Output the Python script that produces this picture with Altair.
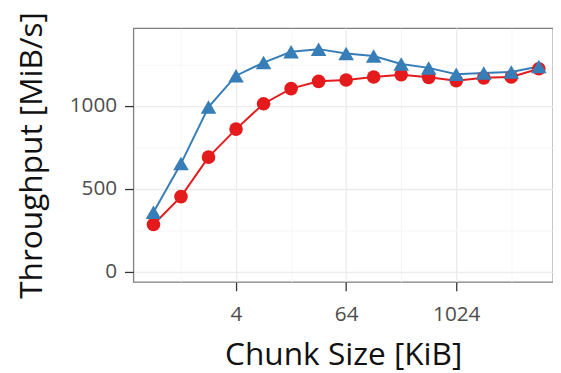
import altair as alt
import pandas as pd

chunk_kib = [0.5, 1, 2, 4, 8, 16, 32, 64, 128, 256, 512, 1024, 2048, 4096, 8192]
red_series = [286, 454, 692, 861, 1014, 1105, 1149, 1157, 1175, 1189, 1173, 1153, 1170, 1175, 1225]
blue_series = [359, 653, 994, 1183, 1262, 1327, 1343, 1317, 1302, 1254, 1230, 1192, 1199, 1205, 1238]
series_names = ["Red", "Blue"]
series_colors = ["#E41A1C", "#377EB8"]
series_shapes = ["circle", "triangle-up"]
series_sizes = [190, 250]

x_ticks = [1, 4, 16, 64, 256, 1024, 4096]
x_major = [4, 64, 1024]
y_ticks = [0, 250, 500, 750, 1000, 1250]

df = pd.DataFrame({
    "chunk": chunk_kib * 2,
    "tp": red_series + blue_series,
    "series": [series_names[0]] * len(chunk_kib) + [series_names[1]] * len(chunk_kib),
})

FONT = "Open Sans"
x_major_test = " || ".join(f"datum.value == {v}" for v in x_major)

x_enc = alt.X(
    "chunk:Q",
    scale=alt.Scale(type="log", base=2, domain=[0.3016, 11712], nice=False),
    axis=alt.Axis(
        title="Chunk Size [KiB]",
        values=x_ticks,
        labelExpr=f"({x_major_test}) ? format(datum.value, 'd') : ''",
        tickOpacity={"condition": {"test": x_major_test, "value": 1}, "value": 0},
        gridColor={"condition": {"test": x_major_test, "value": "#EBEBEB"}, "value": "#F3F3F3"},
        gridWidth={"condition": {"test": x_major_test, "value": 1.3}, "value": 0.8},
        labelOverlap=False,
        labelFlush=False,
        labelPadding=13,
        titlePadding=16,
        titleFontSize=32,
    ),
)
y_enc = alt.Y(
    "tp:Q",
    scale=alt.Scale(domain=[-60, 1470], nice=False, zero=False),
    axis=alt.Axis(
        title="Throughput [MiB/s]",
        values=y_ticks,
        labelExpr="datum.value % 500 == 0 ? format(datum.value, 'd') : ''",
        tickOpacity={"condition": {"test": "datum.value % 500 == 0", "value": 1}, "value": 0},
        gridColor={"condition": {"test": "datum.value % 500 == 0", "value": "#EBEBEB"}, "value": "#F3F3F3"},
        gridWidth={"condition": {"test": "datum.value % 500 == 0", "value": 1.3}, "value": 0.8},
        labelOverlap=False,
        labelPadding=8,
        titlePadding=21,
        titleFontSize=32,
    ),
)
color = alt.Color("series:N", scale=alt.Scale(domain=series_names, range=series_colors), legend=None)
shape = alt.Shape("series:N", scale=alt.Scale(domain=series_names, range=series_shapes), legend=None)
size = alt.Size("series:N", scale=alt.Scale(domain=series_names, range=series_sizes), legend=None)

base = alt.Chart(df)
lines = base.mark_line(strokeWidth=2).encode(x=x_enc, y=y_enc, color=color, order="chunk:Q")
points = base.mark_point(filled=True, opacity=1).encode(x=x_enc, y=y_enc, color=color, shape=shape, size=size)

chart = alt.layer(lines, points).properties(
    width=425,
    height=257,
    autosize="none",
    padding={"left": 127, "top": 18, "right": 0, "bottom": 90},
).configure_view(
    stroke="#7F7F7F", strokeWidth=1.3
).configure_axis(
    domain=False,
    labelFont=FONT,
    titleFont=FONT,
    labelFontSize=21,
    titleFontWeight="normal",
    labelColor="#4D4D4D",
    titleColor="#111111",
    tickColor="#333333",
    tickWidth=1.3,
    tickSize=9,
)

chart.save("out.html", embed_options={"renderer": "svg", "actions": False})
